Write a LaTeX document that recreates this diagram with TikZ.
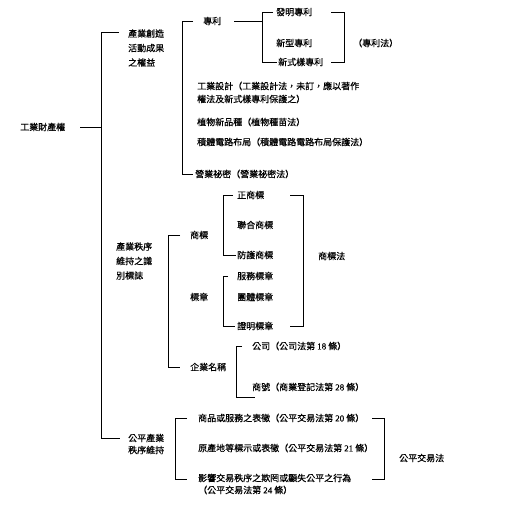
\documentclass[tikz,border=0pt]{standalone}
\usepackage{fontspec}
\newfontfamily\cjk{Noto Sans CJK TC}[FakeBold=0.6]
\newfontfamily\sernum{Liberation Serif}[FakeBold=0.6]
\newcommand\dg[1]{{\sernum #1}}
\begin{document}
\begin{tikzpicture}[x=1pt,y=-1pt,
  every node/.style={inner sep=0pt, anchor=west, font=\fontsize{9}{14.5}\selectfont\cjk, align=left},
  tight/.style={font=\fontsize{9}{12}\selectfont\cjk},
  mid/.style={font=\fontsize{9}{13}\selectfont\cjk},
  ln/.style={line width=0.8pt}]
\useasboundingbox (0,0) rectangle (512,530);
% spine x coordinates
\coordinate (sA) at (101,0);
\coordinate (sP) at (182,0);
\coordinate (sPs) at (262,0);
\coordinate (rP1) at (331,0);
\coordinate (rP2) at (344,0);
\coordinate (sT) at (168,0);
\coordinate (sTb) at (223,0);
\coordinate (rT1) at (290,0);
\coordinate (rT2) at (303,0);
\coordinate (sB) at (236,0);
\coordinate (sF) at (175,0);
\coordinate (rF1) at (372,0);
\coordinate (rF2) at (384,0);
\coordinate (c1a) at (119,32);
\coordinate (c3a) at (120,438);
\coordinate (sBe) at (255,397);
\coordinate (f3a) at (187,479);

% nodes
\node (root) at (20,127) {工業財產權};
\node (c1) at (128,48) {產業創造\\活動成果\\之權益};
\node (c2) at (116,261) {產業秩序\\維持之識\\別標誌};
\node[tight] (c3) at (128,444) {公平產業\\秩序維持};

\node (pat) at (203,21) {專利};
\node (p1) at (276,12) {發明專利};
\node (p2) at (276,43) {新型專利};
\node (p3) at (278,62) {新式樣專利};
\node (plaw) at (353,43) {（專利法）};
\node[mid] (des) at (197,92.5) {工業設計（工業設計法，未訂，應以著作\\權法及新式樣專利保護之）};
\node (plant) at (197,122) {植物新品種（植物種苗法）};
\node (ic) at (197,142) {積體電路布局（積體電路電路布局保護法）};
\node (sec) at (195,174) {營業祕密（營業祕密法）};

\node (tm) at (190,235) {商標};
\node (mk) at (190,297) {標章};
\node (biz) at (190,367) {企業名稱};
\node (t1) at (237,195) {正商標};
\node (t2) at (237,225) {聯合商標};
\node (t3) at (237,255) {防護商標};
\node (m1) at (237,276) {服務標章};
\node (m2) at (237,297) {團體標章};
\node (m3) at (237,326) {證明標章};
\node (tlaw) at (318,256) {商標法};
\node (co) at (252,346) {公司（公司法第 \dg{18} 條）};
\node (sh) at (252,387) {商號（商業登記法第 \dg{28} 條）};

\node (f1) at (198,418) {商品或服務之表徵（公平交易法第 \dg{20} 條）};
\node (f2) at (198,448) {原產地等標示或表徵（公平交易法第 \dg{21} 條）};
\node[tight] (f3) at (198,484) {影響交易秩序之欺罔或顯失公平之行為\\（公平交易法第 \dg{24} 條）};
\node (flaw) at (399,458) {公平交易法};

% connectors
\draw[ln] ([xshift=15]root.east) -- (root -| sA);
\draw[ln] (c1a) -- (c1a -| sA) -- (c3a -| sA) -- (c3a);

\draw[ln] ([xshift=-10]pat.west) -- (pat -| sP) -- (sec -| sP) -- ([xshift=-2]sec.west);
\draw[ln] ([xshift=13]pat.east) -- (pat -| sPs);
\draw[ln] ([xshift=-3]p1.west) -- (p1 -| sPs) -- (p3 -| sPs) -- ([xshift=-1]p3.west);
\draw[ln] (p1 -| rP1) -- (p1 -| rP2) -- (p3 -| rP2) -- (p3 -| rP1);

\draw[ln] ([xshift=-10]tm.west) -- (tm -| sT) -- (biz -| sT) -- ([xshift=-10]biz.west);
\draw[ln] ([xshift=-4]t1.west) -- (t1 -| sTb) -- (t3 -| sTb) -- ([xshift=-1]t3.west);
\draw[ln] ([xshift=-9]m1.west) -- (m1 -| sTb) -- (m3 -| sTb) -- ([xshift=-2]m3.west);
\draw[ln] (t1 -| rT1) -- (t1 -| rT2) -- (m3 -| rT2) -- (m3 -| rT1);

\draw[ln] ([xshift=-10]co.west) -- (co -| sB) |- (sBe);

\draw[ln] ([xshift=-11]f1.west) -- (f1 -| sF) |- (f3a);
\draw[ln] (f1 -| rF1) -- (f1 -| rF2) |- (f3a -| rF1);
\end{tikzpicture}
\end{document}
